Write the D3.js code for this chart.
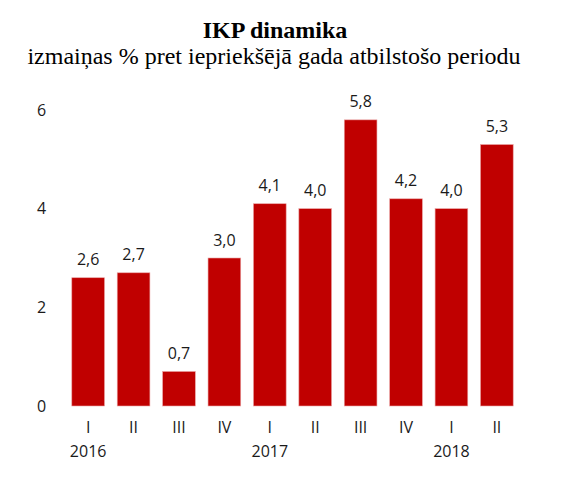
<!DOCTYPE html>
<html>
  <head>
    <title>IKP dinamika</title>
    <script src="https://d3js.org/d3.v7.min.js"></script>
    <style>
      body { margin: 0; background: #fff; }
      .title { font-family: "Liberation Serif", "DejaVu Serif", serif; fill: #000; text-anchor: middle; font-size: 24px; }
      .tick-label, .value-label, .quarter-label, .year-label {
        font-family: "Open Sans", sans-serif;
        fill: #1a1a1a;
        font-size: 16px;
      }
    </style>
  </head>
  <body>
    <svg width="564" height="502"></svg>
    <script>
      const quarters = ["I", "II", "III", "IV", "I", "II", "III", "IV", "I", "II"];
      const years = ["2016", "", "", "", "2017", "", "", "", "2018", ""];
      const values = [2.6, 2.7, 0.7, 3.0, 4.1, 4.0, 5.8, 4.2, 4.0, 5.3];
      const yTicks = [0, 2, 4, 6];

      const barColor = "#c00000";
      const svg = d3.select("svg");

      svg.append("text")
        .attr("class", "title")
        .attr("x", 275)
        .attr("y", 38)
        .style("font-weight", "bold")
        .text("IKP dinamika");
      svg.append("text")
        .attr("class", "title")
        .attr("x", 274)
        .attr("y", 64)
        .text("izmaiņas % pret iepriekšējā gada atbilstošo periodu");

      const x = d3.scaleBand()
        .domain(d3.range(values.length))
        .range([60, 525])
        .paddingInner(0.28)
        .paddingOuter(0.26);
      const y = d3.scaleLinear()
        .domain([0, 6])
        .range([406, 110]);

      // y tick labels, no axis line
      svg.selectAll(".tick-label")
        .data(yTicks)
        .enter().append("text")
          .attr("class", "tick-label")
          .attr("x", 41.5)
          .attr("y", d => y(d))
          .attr("dy", "0.35em")
          .attr("text-anchor", "middle")
          .text(d => d);

      svg.selectAll(".bar")
        .data(values)
        .enter().append("rect")
          .attr("class", "bar")
          .attr("x", (d, i) => x(i))
          .attr("y", d => y(d))
          .attr("width", x.bandwidth())
          .attr("height", d => y(0) - y(d))
          .attr("fill", barColor)
          .attr("stroke", "#e9a3a3")
          .attr("stroke-width", 0.6);

      svg.selectAll(".value-label")
        .data(values)
        .enter().append("text")
          .attr("class", "value-label")
          .attr("x", (d, i) => x(i) + x.bandwidth() / 2)
          .attr("y", d => y(d) - 12.5)
          .attr("text-anchor", "middle")
          .text(d => d.toFixed(1).replace(".", ","));

      svg.selectAll(".quarter-label")
        .data(quarters)
        .enter().append("text")
          .attr("class", "quarter-label")
          .attr("x", (d, i) => x(i) + x.bandwidth() / 2)
          .attr("y", 433)
          .attr("text-anchor", "middle")
          .text(d => d);

      svg.selectAll(".year-label")
        .data(years)
        .enter().append("text")
          .attr("class", "year-label")
          .attr("x", (d, i) => x(i) + x.bandwidth() / 2)
          .attr("y", 456.5)
          .attr("text-anchor", "middle")
          .text(d => d);
    </script>
  </body>
</html>
